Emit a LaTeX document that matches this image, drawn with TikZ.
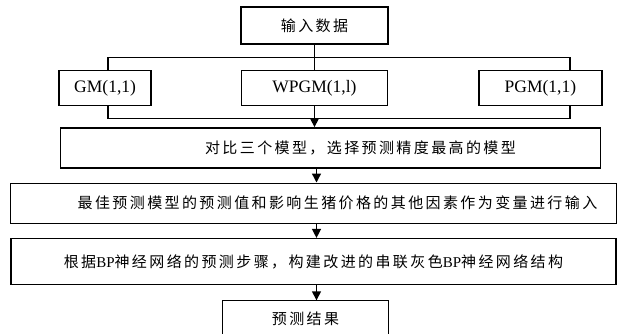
\documentclass[tikz,border=0pt]{standalone}
\usepackage{fontspec}
\setmainfont{Liberation Serif}
\newfontfamily\cjk[LetterSpace=16]{Noto Sans CJK SC}
\usepackage{tikz}
\usetikzlibrary{positioning,calc,arrows.meta}
\newcommand{\bp}{{\rmfamily BP}}
\tikzset{
  wire/.style={line width=1.4pt},
  arr/.style={wire,-{Triangle[width=9pt,length=9pt]}},
  stepbox/.style args={#1,#2}{
  draw=black,
  line width=1.4pt,
  inner sep=0pt,
  minimum width=#1pt,
  minimum height=#2pt,
  font=\cjk\fontsize{15}{17}\selectfont
  },
  modelbox/.style args={#1,#2}{
  stepbox={#1,#2},
  font=\fontsize{17.5}{19}\selectfont
  }
}
\begin{document}
\begin{tikzpicture}[x=1pt,y=-1pt,node distance=20pt]
  \clip (0,0) rectangle (618,333);

  \node [stepbox={147,37}] (in) at (314.5,25.5) {输入数据};
  \node [modelbox={146,35},below=25pt of in] (wpgm) {WPGM(1,l)};
  \node [modelbox={92,35},left=89pt of wpgm] (gm) {GM(1,1)};
  \node [modelbox={123,35},right=90pt of wpgm] (pgm) {PGM(1,1)};
  \node [stepbox={540,40},below=21pt of wpgm,xshift=16pt] (cmp) {\hspace*{60pt}对比三个模型，选择预测精度最高的模型};
  \node [stepbox={606,40},below=14pt of cmp,xshift=-17pt] (best) {\hspace*{48pt}最佳预测模型的预测值和影响生猪价格的其他因素作为变量进行输入};
  \node [stepbox={605,46},below=14pt of best] (bpnet) {根据\bp 神经网络的预测步骤，构建改进的串联灰色\bp 神经网络结构};
  \node [stepbox={165,36},draw=none,below=15pt of bpnet,xshift=-8pt] (res) {预测结果};
  \draw [wire] ([yshift=-20pt]res.south west) -- (res.north west) -- (res.north east) -- ([yshift=-20pt]res.south east);

  \coordinate (top) at ($(in.south)!.5!(wpgm.north)$);
  \coordinate (bot) at ($(wpgm.south)!.6!(cmp.north)$);
  \draw [wire] (in) -- (wpgm);
  \draw [wire] ([xshift=3pt]gm.north) |- (top) -| ([xshift=29.5pt]pgm.north);
  \draw [wire] ([xshift=3pt]gm.south) |- (bot) -| ([xshift=29.5pt]pgm.south);
  \draw [arr] (wpgm) -- (wpgm.south |- cmp.north);
  \draw [arr] ([xshift=2pt]cmp.south -| in) -- ([xshift=2pt]best.north -| in);
  \draw [arr] ([xshift=2pt]best.south -| in) -- ([xshift=2pt]bpnet.north -| in);
  \draw [arr] ([xshift=2pt]bpnet.south -| in) -- ([xshift=2pt]res.north -| in);
\end{tikzpicture}
\end{document}
